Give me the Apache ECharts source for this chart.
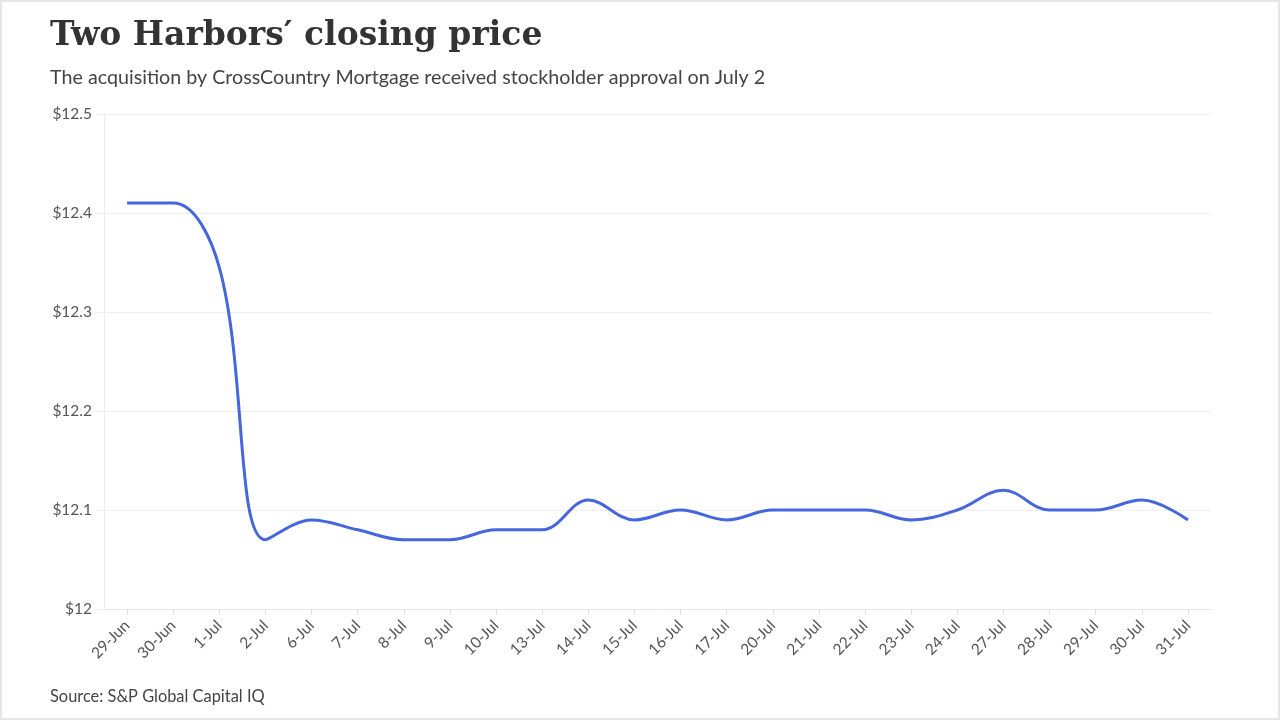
<!DOCTYPE html>
<html><head><meta charset="utf-8">
<script src="https://cdn.jsdelivr.net/npm/echarts@6/dist/echarts.min.js"></script>
<style>html,body{margin:0;padding:0;background:#fff}#c{width:1280px;height:720px;}
#frame{position:absolute;left:0;top:0;width:1280px;height:720px;box-sizing:border-box;border:2px solid #e6e6e6;pointer-events:none}</style>
</head><body><div id="c"></div><div id="frame"></div>
<script>
const categories = ['29-Jun','30-Jun','1-Jul','2-Jul','6-Jul','7-Jul','8-Jul','9-Jul','10-Jul','13-Jul','14-Jul','15-Jul','16-Jul','17-Jul','20-Jul','21-Jul','22-Jul','23-Jul','24-Jul','27-Jul','28-Jul','29-Jul','30-Jul','31-Jul'];
const closingPrice = [12.41,12.41,12.345,12.07,12.09,12.08,12.07,12.07,12.08,12.08,12.11,12.09,12.10,12.09,12.10,12.10,12.10,12.09,12.10,12.12,12.10,12.10,12.11,12.09];
const yTicks = {min:12, max:12.5, interval:0.1};

const chart = echarts.init(document.getElementById('c'));
chart.setOption({
  animation:false,
  backgroundColor:'#fff',
  title:[
    {text:'Two Harbors\u2032 closing price', left:45, top:15,
     textStyle:{fontFamily:'DejaVu Serif', fontWeight:'bold', fontSize:33, color:'#333'}},
    {text:'The acquisition by CrossCountry Mortgage received stockholder approval on July 2', left:45, top:63,
     textStyle:{fontFamily:'Lato', fontWeight:'normal', fontSize:19.7, color:'#444'}},
    {text:'Source: S&P Global Capital IQ', left:45, top:684,
     textStyle:{fontFamily:'Lato', fontWeight:'normal', fontSize:16.4, color:'#444'}}
  ],
  grid:{left:104, right:69, top:114, bottom:111, containLabel:false},
  xAxis:{type:'category', data:categories, boundaryGap:true,
    axisLine:{show:true, lineStyle:{color:'#e8e8e8'}},
    axisTick:{show:true, alignWithLabel:true, length:6, lineStyle:{color:'#e0e0e0'}},
    axisLabel:{rotate:45, fontFamily:'Lato', fontSize:15.5, color:'#555', margin:14}},
  yAxis:{type:'value', min:yTicks.min, max:yTicks.max, interval:yTicks.interval,
    axisLine:{show:true, lineStyle:{color:'#ececec'}},
    axisTick:{show:true, length:7, lineStyle:{color:'#ececec'}},
    splitLine:{show:true, lineStyle:{color:'#eeeeee'}},
    axisLabel:{fontFamily:'Lato', fontSize:15.5, color:'#555', margin:12,
      formatter:v=>'$'+(Math.round(v*10)/10)}},
  series:[{type:'line', data:closingPrice, smooth:0.38, showSymbol:false,
    lineStyle:{color:'#4566dd', width:3}}]
});
</script></body></html>
